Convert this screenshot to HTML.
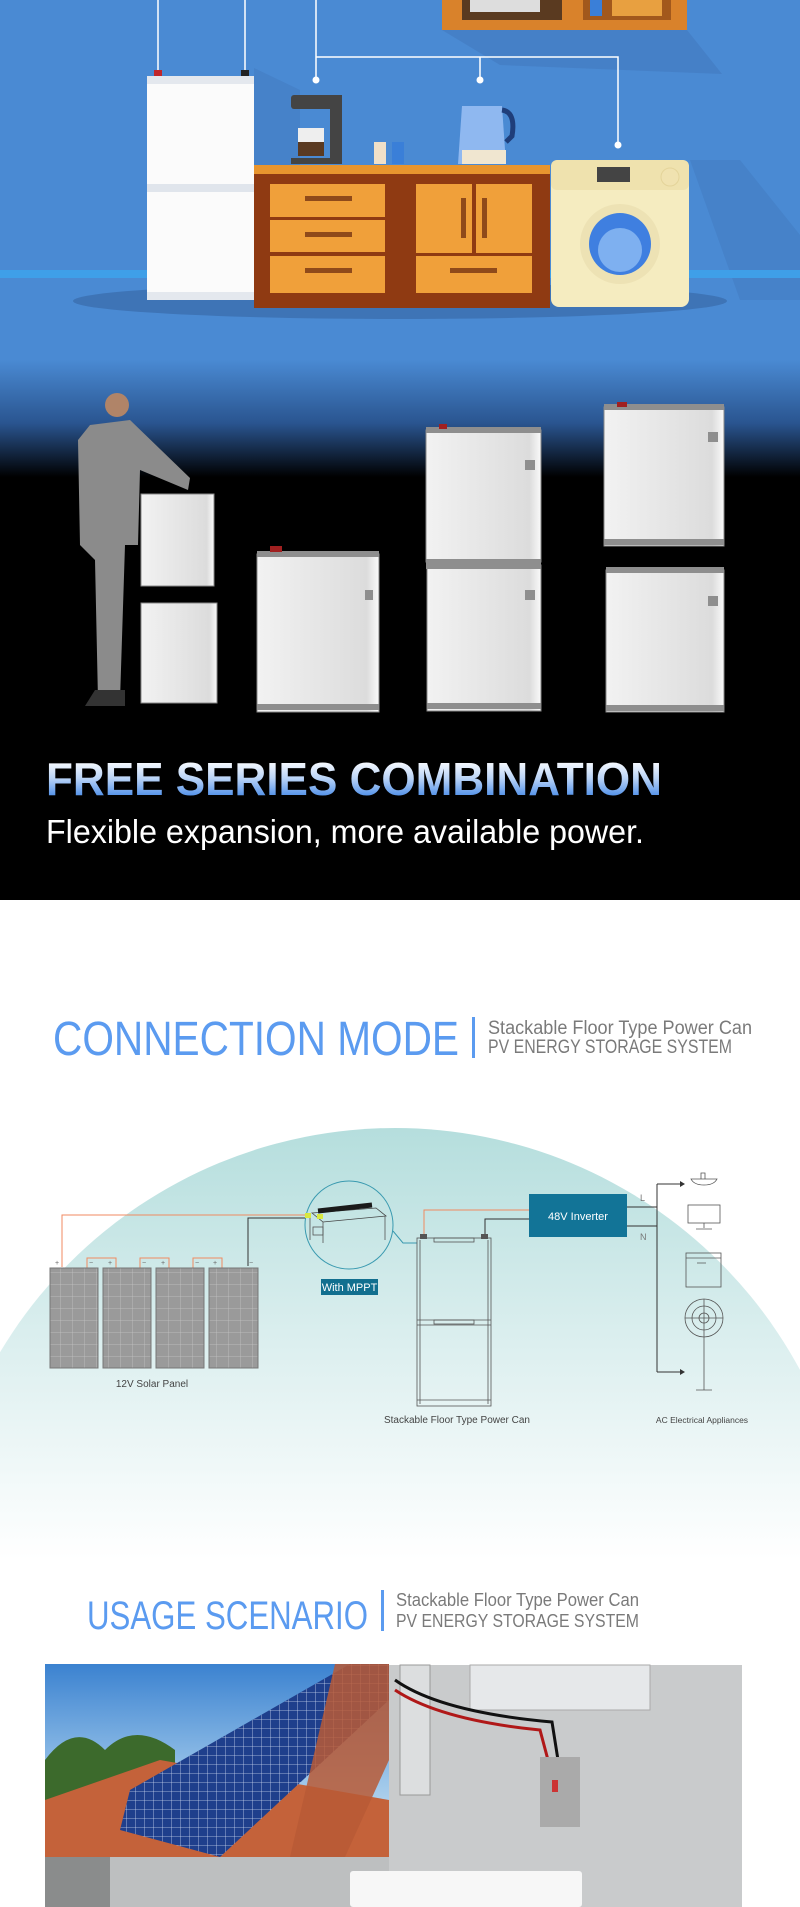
<!DOCTYPE html>
<html><head><meta charset="utf-8"><style>
html,body{margin:0;padding:0;background:#fff;width:800px;height:1907px;overflow:hidden;}
svg{display:block;}
text{font-family:"Liberation Sans",sans-serif;}
</style></head><body>
<svg width="800" height="1907" viewBox="0 0 800 1907" xmlns="http://www.w3.org/2000/svg">
<defs>
<linearGradient id="top" x1="0" y1="0" x2="0" y2="900" gradientUnits="userSpaceOnUse">
<stop offset="0" stop-color="#4a8ad3"/><stop offset="0.40" stop-color="#4a8ad3"/>
<stop offset="0.47" stop-color="#2a5590"/><stop offset="0.53" stop-color="#000"/><stop offset="1" stop-color="#000"/>
</linearGradient>
<linearGradient id="arc" x1="0" y1="1128" x2="0" y2="1560" gradientUnits="userSpaceOnUse">
<stop offset="0" stop-color="#b5dedd"/><stop offset="0.5" stop-color="#dcefef"/><stop offset="1" stop-color="#ffffff"/>
</linearGradient>
<linearGradient id="ttl" x1="0" y1="760" x2="0" y2="797" gradientUnits="userSpaceOnUse">
<stop offset="0" stop-color="#ffffff"/><stop offset="0.5" stop-color="#b9d3f7"/><stop offset="1" stop-color="#4d8ee8"/>
</linearGradient>
<linearGradient id="bat" x1="0" y1="0" x2="1" y2="0">
<stop offset="0" stop-color="#f2f2f2"/><stop offset="0.9" stop-color="#dcdcdc"/><stop offset="1" stop-color="#fafafa"/>
</linearGradient>
<linearGradient id="sky" x1="0" y1="0" x2="0" y2="1">
<stop offset="0" stop-color="#3b82d0"/><stop offset="0.6" stop-color="#9cc6ea"/><stop offset="1" stop-color="#d8e8f0"/>
</linearGradient>
<pattern id="grid" width="12" height="12" patternUnits="userSpaceOnUse">
<rect width="12" height="12" fill="#9a9a9a"/><path d="M0 0H12M0 0V12" stroke="#c4c4c4" stroke-width="0.8"/>
</pattern>
<pattern id="cells" width="9" height="9" patternUnits="userSpaceOnUse">
<rect width="9" height="9" fill="#1f3f8c"/><path d="M0 0H9M0 0V9" stroke="#c8d4ee" stroke-width="0.8"/>
</pattern>
</defs>

<!-- TOP SECTION -->
<rect x="0" y="0" width="800" height="900" fill="url(#top)"/>
<polygon points="442,30 687,30 722,74 500,65" fill="#4279c0" opacity="0.6"/>
<polygon points="254,68 300,90 300,165 254,165" fill="#4279c0" opacity="0.5"/>
<polygon points="690,160 740,160 800,235 800,300 740,300" fill="#4279c0" opacity="0.5"/>
<rect x="0" y="270" width="800" height="8" fill="#3f9fe8"/>
<ellipse cx="400" cy="301" rx="327" ry="18" fill="#3e74b6"/>
<!-- shelf -->
<rect x="442" y="0" width="245" height="30" fill="#d9822b"/>
<rect x="462" y="0" width="100" height="20" fill="#5a3a20"/>
<rect x="470" y="0" width="70" height="12" fill="#ddd"/>
<rect x="583" y="0" width="88" height="20" fill="#a2581c"/>
<rect x="590" y="0" width="12" height="16" fill="#3a7fd8"/>
<rect x="612" y="0" width="50" height="16" fill="#e8a040"/>
<!-- wires -->
<g stroke="#fff" stroke-width="1.5" fill="none">
<path d="M158 0V70M245 0V70M316 0V57H618V145M480 57V80M316 57V80"/>
</g>
<g fill="#fff"><circle cx="316" cy="80" r="3.5"/><circle cx="480" cy="80" r="3.5"/><circle cx="618" cy="145" r="3.5"/></g>
<rect x="154" y="70" width="8" height="6" fill="#c0262b"/><rect x="241" y="70" width="8" height="6" fill="#222"/>
<!-- fridge/battery -->
<rect x="147" y="76" width="107" height="224" fill="#fbfbfb"/>
<rect x="147" y="76" width="107" height="8" fill="#e4e8ee"/>
<rect x="147" y="184" width="107" height="8" fill="#e0e5ec"/>
<rect x="147" y="292" width="107" height="8" fill="#e4e8ee"/>
<!-- cabinet -->
<rect x="254" y="165" width="296" height="143" fill="#8f3a12"/>
<rect x="254" y="165" width="296" height="9" fill="#e8952e"/>
<g fill="#f0a03a">
<rect x="270" y="184" width="115" height="33"/><rect x="270" y="220" width="115" height="32"/><rect x="270" y="256" width="115" height="37"/>
<rect x="416" y="184" width="56" height="69"/><rect x="476" y="184" width="56" height="69"/><rect x="416" y="256" width="116" height="37"/>
</g>
<g fill="#8f4a1a"><rect x="305" y="196" width="47" height="5"/><rect x="305" y="232" width="47" height="5"/><rect x="305" y="268" width="47" height="5"/>
<rect x="461" y="198" width="5" height="40"/><rect x="482" y="198" width="5" height="40"/><rect x="450" y="268" width="47" height="5"/></g>
<!-- coffee maker -->
<rect x="291" y="95" width="51" height="14" rx="3" fill="#444"/>
<rect x="330" y="95" width="12" height="69" fill="#444"/>
<rect x="291" y="158" width="51" height="6" fill="#444"/>
<path d="M298 128h26v28h-26z" fill="#eee"/><path d="M298 142h26v14h-26z" fill="#5a3a22"/>
<rect x="374" y="142" width="12" height="22" fill="#f0e0c8"/><rect x="392" y="142" width="12" height="22" fill="#3a7fd8"/>
<!-- kettle -->
<path d="M462 106h40l4 58h-48z" fill="#8fb8f0"/><path d="M502 110q14 2 10 26l-6 6" stroke="#1f3e7a" stroke-width="5" fill="none"/>
<rect x="462" y="150" width="44" height="14" fill="#f0e6d0"/>
<!-- washer -->
<rect x="551" y="160" width="138" height="147" rx="8" fill="#f5ecc0"/>
<rect x="551" y="160" width="138" height="30" rx="6" fill="#efe2ae"/>
<rect x="597" y="167" width="33" height="15" fill="#444"/>
<circle cx="670" cy="177" r="9" fill="#f0e2b0" stroke="#e4d49a"/>
<circle cx="620" cy="244" r="40" fill="#ede2b4"/>
<circle cx="620" cy="244" r="31" fill="#3f7fe0"/><circle cx="620" cy="250" r="22" fill="#7eb0f0"/>

<!-- man -->
<circle cx="117" cy="405" r="12" fill="#b08468"/>
<path d="M90 425 L130 420 L190 478 L188 490 L140 470 L138 545 L125 545 L120 700 L98 700 L95 560 L80 545 L78 440 Z" fill="#8b8b8b"/>
<path d="M95 690h30v16h-40z" fill="#333"/>
<!-- batteries -->
<g fill="url(#bat)" stroke="#888" stroke-width="1">
<rect x="141" y="494" width="73" height="92"/>
<rect x="141" y="603" width="76" height="100"/>
<rect x="257" y="554" width="122" height="158"/>
<rect x="426" y="430" width="115" height="132"/>
<rect x="427" y="565" width="114" height="146"/>
<rect x="604" y="407" width="120" height="139"/>
<rect x="606" y="570" width="118" height="142"/>
</g>
<g fill="#8e8e8e">
<rect x="257" y="551" width="122" height="6"/><rect x="257" y="704" width="122" height="6"/>
<rect x="426" y="427" width="115" height="6"/><rect x="426" y="559" width="115" height="10"/><rect x="427" y="703" width="114" height="6"/>
<rect x="604" y="404" width="120" height="6"/><rect x="604" y="539" width="120" height="6"/><rect x="606" y="567" width="118" height="6"/><rect x="606" y="705" width="118" height="6"/>
<rect x="365" y="590" width="8" height="10"/><rect x="525" y="460" width="10" height="10"/><rect x="525" y="590" width="10" height="10"/><rect x="708" y="432" width="10" height="10"/><rect x="708" y="596" width="10" height="10"/>
</g>
<rect x="270" y="546" width="12" height="6" fill="#a02020"/><rect x="439" y="424" width="8" height="5" fill="#a02020"/><rect x="617" y="402" width="10" height="5" fill="#a02020"/>

<text x="46" y="795" font-size="46" font-weight="bold" fill="url(#ttl)" textLength="616" lengthAdjust="spacingAndGlyphs">FREE SERIES COMBINATION</text>
<text x="46" y="843" font-size="33" fill="#fff" textLength="598" lengthAdjust="spacingAndGlyphs">Flexible expansion, more available power.</text>

<!-- CONNECTION MODE -->
<text x="53" y="1055" font-size="48" fill="#5b9bf0" textLength="406" lengthAdjust="spacingAndGlyphs">CONNECTION MODE</text>
<rect x="472" y="1017" width="3" height="41" fill="#5b9bf0"/>
<text x="488" y="1034" font-size="19" fill="#7a7a7a" textLength="264" lengthAdjust="spacingAndGlyphs">Stackable Floor Type Power Can</text>
<text x="488" y="1053" font-size="19" fill="#7a7a7a" textLength="244" lengthAdjust="spacingAndGlyphs">PV ENERGY STORAGE SYSTEM</text>

<circle cx="395" cy="1588" r="460" fill="url(#arc)"/>
<rect x="0" y="1560" width="800" height="347" fill="#fff"/>

<!-- diagram -->
<g fill="none" stroke-width="1">
<path d="M62 1267V1215H306" stroke="#f08a60"/>
<path d="M248 1266V1218H306" stroke="#333"/>
<path d="M424 1238V1210H529" stroke="#f08a60"/>
<path d="M485 1238V1219H529" stroke="#333"/>
<path d="M393 1231L403 1243H417" stroke="#3a9ab0"/>
<path d="M627 1207H657M627 1226H657M657 1184V1372M657 1184H680M657 1372H680" stroke="#333"/>
<path d="M87 1268V1258H116V1268M140 1268V1258H169V1268M193 1268V1258H222V1268" stroke="#f08a60"/>
</g>
<path d="M680 1181l5 3-5 3zM680 1369l5 3-5 3z" fill="#333"/>
<g fill="url(#grid)" stroke="#777">
<rect x="50" y="1268" width="48" height="100"/><rect x="103" y="1268" width="48" height="100"/>
<rect x="156" y="1268" width="48" height="100"/><rect x="209" y="1268" width="49" height="100"/>
</g>
<g font-size="7" fill="#666"><text x="55" y="1265">+</text><text x="108" y="1265">+</text><text x="161" y="1265">+</text><text x="213" y="1265">+</text>
<text x="89" y="1265">−</text><text x="142" y="1265">−</text><text x="195" y="1265">−</text><text x="249" y="1265">−</text></g>
<text x="152" y="1387" font-size="10" fill="#444" text-anchor="middle">12V Solar Panel</text>
<ellipse cx="349" cy="1225" rx="44" ry="44" fill="none" stroke="#3a9ab0"/>
<!-- battery in circle -->
<path d="M312 1213 L376 1208 L386 1216 L323 1222 Z" fill="none" stroke="#444" stroke-width="0.8"/>
<path d="M318 1211 L372 1205" stroke="#1a1a1a" stroke-width="5"/>
<rect x="305" y="1213" width="6" height="5" fill="#d8e840"/><rect x="317" y="1214" width="6" height="5" fill="#d8e840"/>
<path d="M310 1218V1240M323 1222V1243M385 1216V1240" stroke="#555" fill="none" stroke-width="0.8"/>
<rect x="313" y="1227" width="10" height="8" fill="none" stroke="#555" stroke-width="0.8"/>
<rect x="321" y="1279" width="57" height="16" fill="#126f8f"/>
<text x="349.5" y="1291" font-size="11" fill="#fff" text-anchor="middle">With MPPT</text>
<!-- stack -->
<g fill="none" stroke="#555" stroke-width="0.8">
<rect x="417" y="1238" width="74" height="168"/>
<path d="M420 1240V1404M488 1240V1404M417 1320H491M417 1325H491M417 1400H491"/>
<rect x="434" y="1238" width="40" height="4"/><rect x="434" y="1320" width="40" height="4"/>
</g>
<rect x="420" y="1234" width="7" height="5" fill="#555"/><rect x="481" y="1234" width="7" height="5" fill="#555"/>
<text x="457" y="1423" font-size="10" fill="#444" text-anchor="middle">Stackable Floor Type Power Can</text>
<rect x="529" y="1194" width="98" height="43" fill="#127497"/>
<text x="578" y="1220" font-size="11" fill="#fff" text-anchor="middle">48V Inverter</text>
<text x="640" y="1201" font-size="9" fill="#777">L</text><text x="640" y="1240" font-size="9" fill="#777">N</text>
<!-- appliances -->
<g fill="none" stroke="#555" stroke-width="0.8">
<path d="M691 1179h26q-3 6-13 6t-13-6zM701 1179v-6h4v6"/>
<rect x="688" y="1205" width="32" height="18"/><path d="M704 1223v5M696 1229h16"/>
<rect x="686" y="1253" width="35" height="34"/><path d="M686 1258h35M697 1263h9"/>
<circle cx="704" cy="1318" r="19"/><circle cx="704" cy="1318" r="12"/><circle cx="704" cy="1318" r="5"/><path d="M685 1318h38M704 1299v38"/>
<path d="M704 1337v53M696 1390h16"/>
</g>
<text x="702" y="1423" font-size="8.5" fill="#444" text-anchor="middle">AC Electrical Appliances</text>

<!-- USAGE SCENARIO -->
<text x="87" y="1629" font-size="40" fill="#5b9bf0" textLength="281" lengthAdjust="spacingAndGlyphs">USAGE SCENARIO</text>
<rect x="381" y="1590" width="3" height="41" fill="#5b9bf0"/>
<text x="396" y="1606" font-size="18" fill="#7a7a7a" textLength="243" lengthAdjust="spacingAndGlyphs">Stackable Floor Type Power Can</text>
<text x="396" y="1627" font-size="18" fill="#7a7a7a" textLength="243" lengthAdjust="spacingAndGlyphs">PV ENERGY STORAGE SYSTEM</text>

<!-- photos -->
<rect x="45" y="1664" width="344" height="193" fill="url(#sky)"/>
<path d="M45 1760q30-40 60-10q30-30 70 0v107H45z" fill="#3c6a2c"/>
<path d="M45 1800 L160 1760 L389 1800 V1857 H45Z" fill="#c4623a"/>
<path d="M130 1790 L350 1664 L389 1664 L389 1700 L220 1857 L120 1830Z" fill="url(#cells)"/>
<path d="M335 1664 L389 1664 L389 1760 L345 1857 L290 1857 Z" fill="#b85a36" opacity="0.85"/>
<rect x="389" y="1665" width="353" height="242" fill="#c9cbcc"/>
<rect x="470" y="1665" width="180" height="45" fill="#e6e8ea" stroke="#aaa"/>
<rect x="400" y="1665" width="30" height="130" fill="#dcdedf" stroke="#999"/>
<path d="M395 1690 Q440 1720 540 1730 L548 1760" stroke="#b01818" stroke-width="3" fill="none"/>
<path d="M395 1680 Q440 1712 552 1722 L558 1760" stroke="#111" stroke-width="3" fill="none"/>
<rect x="540" y="1757" width="40" height="70" fill="#aaa"/><rect x="552" y="1780" width="6" height="12" fill="#c33"/>
<rect x="45" y="1857" width="344" height="50" fill="#bdbfc0"/>
<rect x="45" y="1857" width="65" height="50" fill="#8a8c8c"/>
<rect x="350" y="1871" width="232" height="36" fill="#f7f7f7" rx="3"/>
</svg>
</body></html>
